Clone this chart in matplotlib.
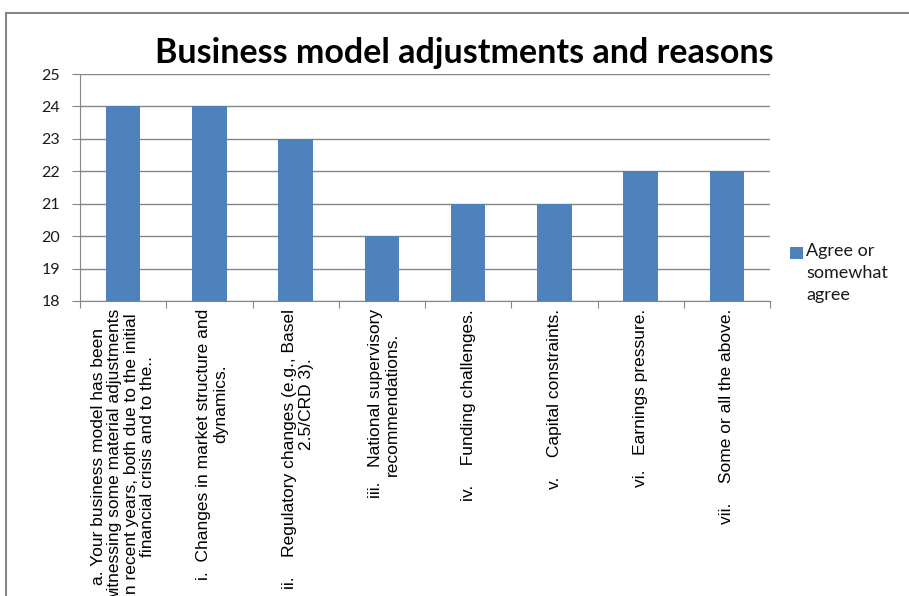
import matplotlib
matplotlib.use("Agg")
import matplotlib.pyplot as plt
from matplotlib.patches import Rectangle

categories = [
    "a. Your business model has been\nwitnessing some material adjustments\nin recent years, both due to the initial\nfinancial crisis and to the..",
    "i.  Changes in market structure and\ndynamics.",
    "ii.    Regulatory changes (e.g., Basel\n2.5/CRD 3).",
    "iii.   National supervisory\nrecommendations.",
    "iv.    Funding challenges.",
    "v.    Capital constraints.",
    "vi.   Earnings pressure.",
    "vii.    Some or all the above.",
]
values = [24, 24, 23, 20, 21, 21, 22, 22]
series_name = "Agree or\nsomewhat\nagree"
yticks = [18, 19, 20, 21, 22, 23, 24, 25]

W, H = 909, 596
PT = 0.72  # points per pixel at 100 dpi
fig = plt.figure(figsize=(W/100, H/100), dpi=100)
ax = fig.add_axes([80/W, 1-301/H, (770-80)/W, (301-74)/H])

x = list(range(len(categories)))
ax.bar(x, values, width=0.4, color="#4F81BD", zorder=3, label=series_name)
ax.set_ylim(18, 25)
ax.set_xlim(-0.5, len(categories) - 0.5)
ax.set_yticks(yticks)
ax.set_yticklabels([str(v) for v in yticks], fontsize=11.5, family="Lato")
ax.yaxis.grid(True, color="#868686", linewidth=1, zorder=0)
ax.tick_params(axis="y", length=5.5, color="#868686", pad=9, labelcolor="#1a1a1a")
ax.set_xticks([i + 0.5 for i in range(-1, len(categories))])
ax.set_xticklabels([])
ax.tick_params(axis="x", length=5, color="#868686")
for s in ["top", "right"]:
    ax.spines[s].set_visible(False)
for s in ["left", "bottom"]:
    ax.spines[s].set_color("#868686")

lab_kw = dict(xycoords="data", textcoords="offset points", rotation=90,
              fontsize=12.5, family="Liberation Sans", annotation_clip=False)
for i, lab in enumerate(categories):
    lines = lab.split("\n")
    if len(lines) == 2:
        ax.annotate(lines[0], xy=(i, 18), xytext=(-6*PT, -8*PT),
                    ha="center", va="top", **lab_kw)
        ax.annotate(lines[1], xy=(i, 18), xytext=(11*PT, -103*PT),
                    ha="center", va="center", **lab_kw)
    else:
        ax.annotate(lab, xy=(i, 18), xytext=(0, -8*PT), ha="center", va="top",
                    multialignment="center", linespacing=1.12, **lab_kw)

fig.text(464/W, 1 - 53/H, "Business model adjustments and reasons",
         ha="center", va="center", fontsize=24.5, fontweight="bold", family="Lato")

# legend
handle = Rectangle((790/W, 1 - 259/H), 13/W, 12/H, transform=fig.transFigure,
                   facecolor="#4F81BD", edgecolor="none")
fig.patches.append(handle)
fig.text(806/W, 1 - 243/H, series_name, ha="left", va="top",
         fontsize=13, family="Lato", linespacing=1.45, color="#1a1a1a")

fig.patches.append(Rectangle((6/W, -0.1), 2, 1 - 13/H + 0.1,
                             transform=fig.transFigure, fill=False,
                             edgecolor="#868686", linewidth=1.5))

fig.savefig("out.png", dpi=100)
